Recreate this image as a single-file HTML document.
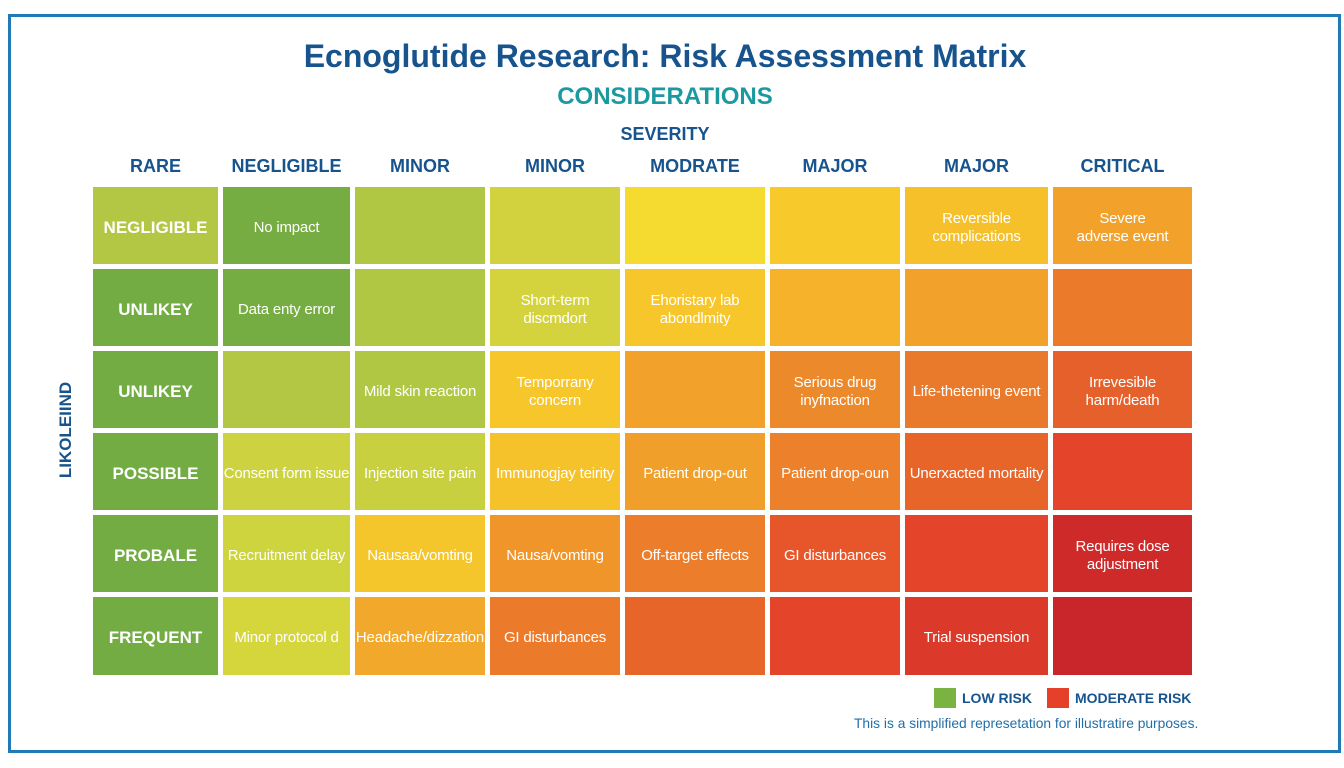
<!DOCTYPE html>
<html><head><meta charset="utf-8"><style>
body{margin:0;width:1344px;height:768px;background:#fff;font-family:"Liberation Sans",sans-serif;position:relative;overflow:hidden}
.frame{position:absolute;left:8px;top:14px;width:1327px;height:733px;border:3px solid #1f7ab5}
.t{position:absolute;left:0;width:1330px;text-align:center}
.h{position:absolute;color:#17538c;font-weight:bold;font-size:18px;text-align:center}
.c{position:absolute;display:flex;align-items:center;justify-content:center;text-align:center;color:#fff;font-size:15px;line-height:18px;overflow:hidden;white-space:nowrap;padding-top:4px;box-sizing:border-box;letter-spacing:-0.2px}
.c.b{font-weight:bold;font-size:17px;letter-spacing:0}
</style></head><body>
<div class="frame"></div>
<div class="t" style="top:38px;font-size:32px;font-weight:bold;color:#17538c">Ecnoglutide Research: Risk Assessment Matrix</div>
<div class="t" style="top:83px;font-size:24px;font-weight:bold;color:#1a9aa0;">CONSIDERATIONS</div>
<div class="t" style="top:124px;font-size:18px;font-weight:bold;color:#17538c">SEVERITY</div>
<div style="position:absolute;left:66px;top:430px;transform:translate(-50%,-50%) rotate(-90deg);color:#17538c;font-weight:bold;font-size:17px">LIKOLEIIND</div>
<div id="g"></div>
<div style="position:absolute;left:934px;top:688px;width:22px;height:20px;background:#7ab342"></div>
<div style="position:absolute;left:962px;top:690px;color:#17538c;font-weight:bold;font-size:14px">LOW RISK</div>
<div style="position:absolute;left:1047px;top:688px;width:22px;height:20px;background:#e4402a"></div>
<div style="position:absolute;left:1075px;top:690px;color:#17538c;font-weight:bold;font-size:14px">MODERATE RISK</div>
<div style="position:absolute;left:854px;top:716px;color:#1f6fa8;font-size:13.8px">This is a simplified represetation for illustratire purposes.</div>
<script>
var xs=[[93,218],[223,350],[355,485],[490,620],[625,765],[770,900],[905,1048],[1053,1192]];
var ys=[[187,264],[269,346],[351,428],[433,510],[515,592],[597,675]];
var heads=["RARE","NEGLIGIBLE","MINOR","MINOR","MODRATE","MAJOR","MAJOR","CRITICAL"];
var col=[
["#b3c744","#76ad42","#b0c744","#d2d23e","#f5da30","#f7c92a","#f6c02a","#f2a22a"],
["#72ac42","#76ad42","#b0c744","#d4d33e","#f6c62b","#f5b22a","#f2a22a","#eb7a2b"],
["#72ac42","#b3c744","#b0c744","#f6c62b","#f2a22a","#ec8a2b","#ea7a2b","#e5602a"],
["#72ac42","#ccd240","#c8d040","#f5c22b","#f0a02a","#ec802b","#e8652a","#e4442a"],
["#72ac42","#cdd43e","#f5c62b","#f0952a","#ec7e2b","#e6562a","#e4442a","#cf2a2a"],
["#72ac42","#d4d63c","#f2a82a","#ec7a2b","#e8652a","#e4442a","#db3a2a","#c8262a"]];
var txt=[
["NEGLIGIBLE","No impact","","","","","Reversible<br>complications","Severe<br>adverse event"],
["UNLIKEY","Data enty error","","Short-term<br>discmdort","Ehoristary lab<br>abondlmity","","",""],
["UNLIKEY","","Mild skin reaction","Temporrany<br>concern","","Serious drug<br>inyfnaction","Life-thetening event","Irrevesible<br>harm/death"],
["POSSIBLE","Consent form issue","Injection site pain","Immunogjay teirity","Patient drop-out","Patient drop-oun","Unerxacted mortality",""],
["PROBALE","Recruitment delay","Nausaa/vomting","Nausa/vomting","Off-target effects","GI disturbances","","Requires dose<br>adjustment"],
["FREQUENT","Minor protocol d","Headache/dizzation","GI disturbances","","","Trial suspension",""]];
var h="";
for(var j=0;j<8;j++)h+='<div class="h" style="left:'+xs[j][0]+'px;width:'+(xs[j][1]-xs[j][0])+'px;top:156px">'+heads[j]+'</div>';
for(var i=0;i<6;i++)for(var j=0;j<8;j++)h+='<div class="c'+(j==0?' b':'')+'" style="left:'+xs[j][0]+'px;top:'+ys[i][0]+'px;width:'+(xs[j][1]-xs[j][0])+'px;height:'+(ys[i][1]-ys[i][0])+'px;background:'+col[i][j]+'">'+txt[i][j]+'</div>';
document.getElementById("g").innerHTML=h;
</script>
</body></html>
